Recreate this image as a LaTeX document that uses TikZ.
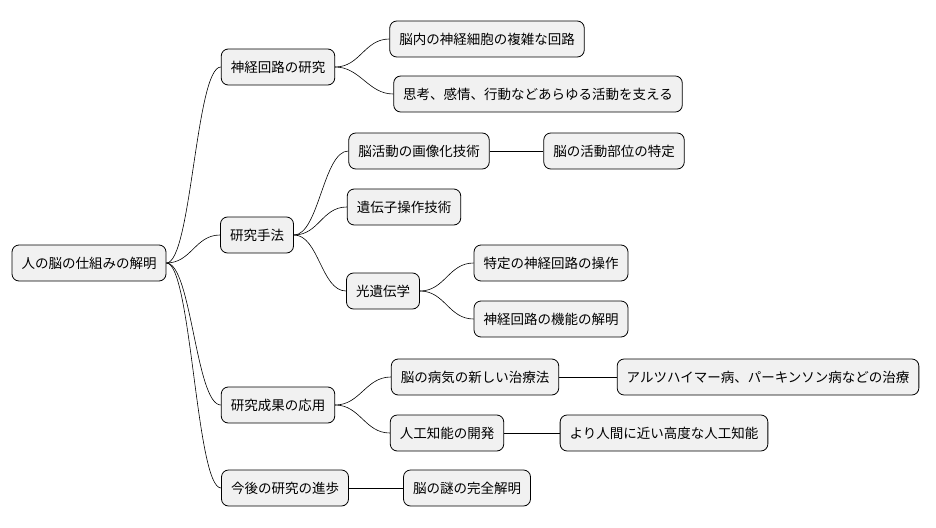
\documentclass[tikz,border=0pt]{standalone}
\usepackage{fontspec}
\setmainfont{Noto Sans CJK JP}
\usetikzlibrary{calc}
\definecolor{boxfill}{HTML}{F1F1F1}
\tikzset{
  topic/.style={draw=black, fill=boxfill, rounded corners=7pt, line width=0.8pt,
    minimum height=36pt, inner xsep=9.5pt, font=\fontsize{13.5}{16}\selectfont},
  branch/.style={draw=black, line width=0.6pt}
}
\begin{document}
\begin{tikzpicture}[x=1pt,y=-1pt]
  \useasboundingbox (0,0) rectangle (936,527);

  % root
  \node[topic] (root) at (89,263) {人の脳の仕組みの解明};

  % first level
  \node[topic] (circ) at (278,67) {神経回路の研究};
  \node[topic] (meth) at (257,235) {研究手法};
  \node[topic] (appl) at (278,405) {研究成果の応用};
  \node[topic] (futr) at (285,488) {今後の研究の進歩};

  % second level
  \node[topic] (cell) at (487,39) {脳内の神経細胞の複雑な回路};
  \node[topic] (thnk) at (538,94) {思考、感情、行動などあらゆる活動を支える};
  \node[topic] (imag) at (419,151) {脳活動の画像化技術};
  \node[topic] (gene) at (404,207) {遺伝子操作技術};
  \node[topic] (opto) at (383,291) {光遺伝学};
  \node[topic] (cure) at (475,377) {脳の病気の新しい治療法};
  \node[topic] (arti) at (447,433) {人工知能の開発};
  \node[topic] (myst) at (467,488) {脳の謎の完全解明};

  % third level
  \node[topic] (locs) at (614,151) {脳の活動部位の特定};
  \node[topic] (ctrl) at (551,263) {特定の神経回路の操作};
  \node[topic] (func) at (551,319) {神経回路の機能の解明};
  \node[topic] (dise) at (768,377) {アルツハイマー病、パーキンソン病などの治療};
  \node[topic] (hmai) at (664,433) {より人間に近い高度な人工知能};

  % connectors
  \foreach \a/\b in {root/circ, root/meth, root/appl, root/futr,
                     circ/cell, circ/thnk, meth/imag, meth/gene, meth/opto,
                     opto/ctrl, opto/func, appl/cure, appl/arti} {
    \draw[branch] (\a.east) .. controls ($(\a.east)+(25,0)$) and ($(\b.west)+(-25,0)$) .. (\b.west);
  }
  \foreach \a/\b in {futr/myst, imag/locs, cure/dise, arti/hmai} {
    \draw[branch] (\a.east) -- (\b.west);
  }
\end{tikzpicture}
\end{document}
